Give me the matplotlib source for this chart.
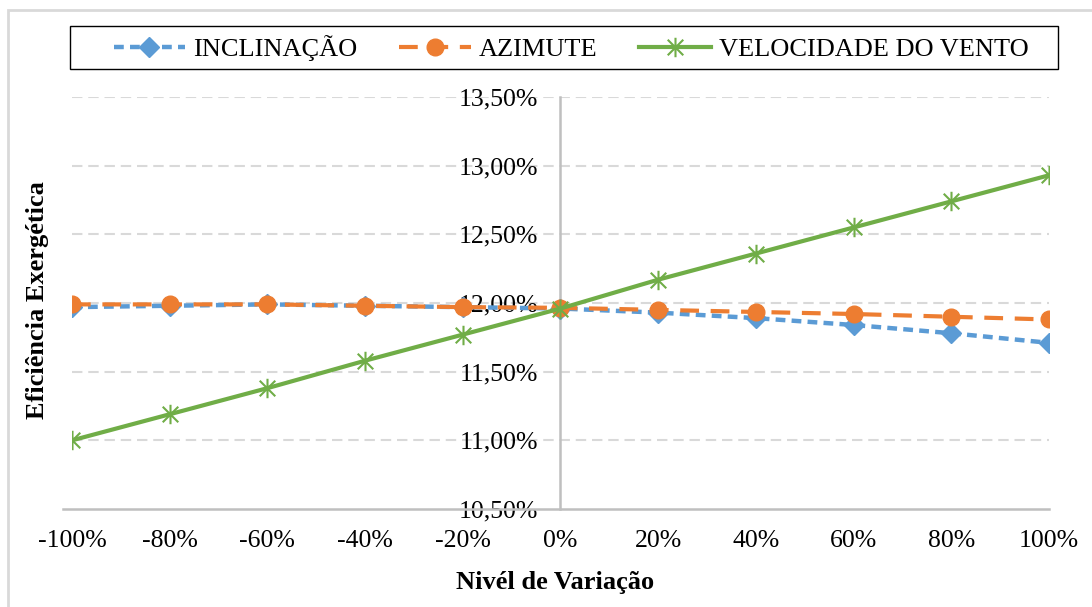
import numpy as np
import matplotlib.pyplot as plt
from matplotlib.path import Path
from matplotlib.patches import Rectangle

plt.rcParams['font.family'] = ['Liberation Serif', 'DejaVu Serif']

# níveis de variação (%) e eficiência exergética (%) de cada parâmetro
variacao = [-100, -80, -60, -40, -20, 0, 20, 40, 60, 80, 100]
inclinacao = [11.97, 11.98, 11.99, 11.98, 11.97, 11.96, 11.93, 11.89, 11.84, 11.78, 11.71]
azimute = [11.99, 11.99, 11.99, 11.98, 11.97, 11.965, 11.95, 11.935, 11.92, 11.90, 11.88]
vento = [11.00, 11.19, 11.38, 11.58, 11.77, 11.96, 12.17, 12.36, 12.55, 12.74, 12.93]

y_ticks = [10.5, 11.0, 11.5, 12.0, 12.5, 13.0, 13.5]
x_ticks = [-100, -80, -60, -40, -20, 0, 20, 40, 60, 80, 100]

# marcador em asterisco (X com traço vertical)
asterisco = Path(
    [(-1, -1), (1, 1), (-1, 1), (1, -1), (0, -1.25), (0, 1.25)],
    [Path.MOVETO, Path.LINETO, Path.MOVETO, Path.LINETO, Path.MOVETO, Path.LINETO])

fig = plt.figure(figsize=(10.92, 6.07), dpi=100)
ax = fig.add_axes([0.0659, 0.1614, 0.8947, 0.6788])

ax.set_xlim(-100, 100)
ax.set_ylim(10.5, 13.5)

for y in y_ticks[1:]:
    ax.axhline(y, color='#d9d9d9', lw=1.5, ls=(0, (5, 2.8)), zorder=0)

ax.plot(variacao, inclinacao, color='#5b9bd5', lw=3.2, ls=(0, (2.2, 1.4)),
        marker='D', ms=10, label='INCLINAÇÃO', zorder=3)
ax.plot(variacao, azimute, color='#ed7d31', lw=3.0, ls=(0, (4.5, 2.8)),
        marker='o', ms=12, label='AZIMUTE', zorder=4)
ax.plot(variacao, vento, color='#70ad47', lw=3.0, ls='-',
        marker=asterisco, ms=14, mew=1.5, mfc='none', label='VELOCIDADE DO VENTO', zorder=5)

for s in ['top', 'right']:
    ax.spines[s].set_visible(False)
ax.spines['left'].set_position(('data', 0))
ax.spines['left'].set_color('#bfbfbf')
ax.spines['left'].set_linewidth(1.8)
ax.spines['bottom'].set_color('#bfbfbf')
ax.spines['bottom'].set_linewidth(1.8)
ax.spines['bottom'].set_bounds(-101.8, 100)

ax.set_yticks(y_ticks)
ax.set_yticklabels([f'{v:.2f}%'.replace('.', ',') for v in y_ticks])
ax.set_xticks(x_ticks)
ax.set_xticklabels([f'{v}%' for v in x_ticks])
ax.tick_params(axis='y', length=0, pad=16, labelsize=18.5)
ax.tick_params(axis='x', length=0, pad=15, labelsize=18.5)

fig.text(0.034, 0.506, 'Eficiência Exergética', rotation=90, ha='center', va='center',
         fontsize=19, fontweight='bold')
fig.text(0.508, 0.041, 'Nivél de Variação', ha='center', va='center',
         fontsize=19, fontweight='bold')

leg = fig.legend(loc='center', bbox_to_anchor=(0.523, 0.921), ncol=3, fontsize=19,
                 handlelength=2.7, columnspacing=1.6, frameon=False,
                 handletextpad=0.3)

# caixa da legenda
fig.patches.append(Rectangle((70 / 1092, (607 - 69) / 607), 988 / 1092, 43 / 607,
                             transform=fig.transFigure, fill=False,
                             edgecolor='black', lw=1.0))

# moldura cinza da área do gráfico
fig.patches.append(Rectangle((8 / 1092, -0.1), 1.2, (607 - 10) / 607 + 0.1,
                             transform=fig.transFigure, fill=False,
                             edgecolor='#d9d9d9', lw=2))

fig.savefig('out.png', dpi=100)
